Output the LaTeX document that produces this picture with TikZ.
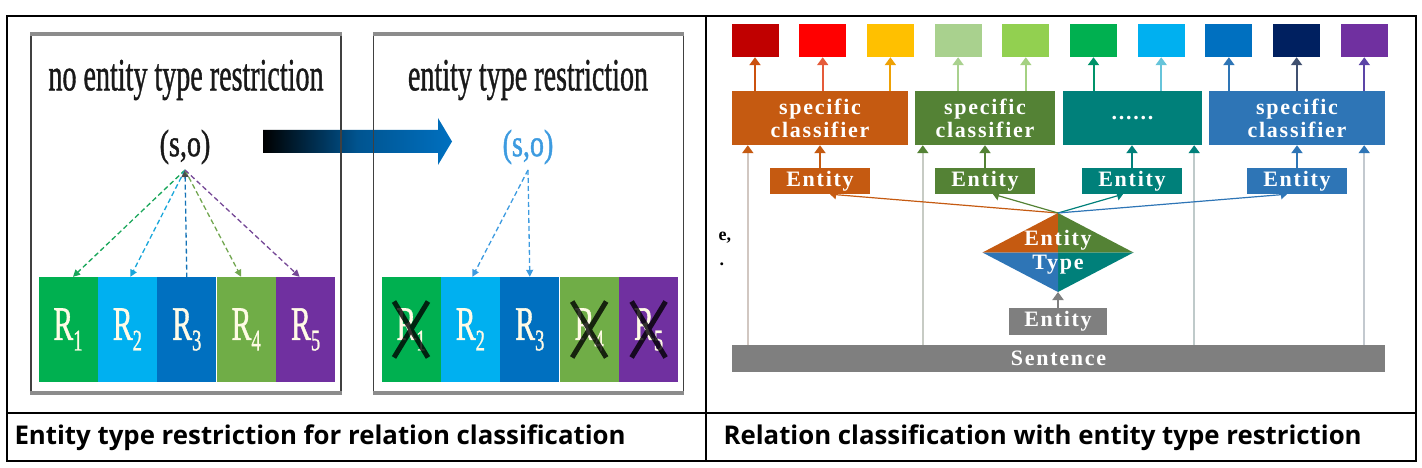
\documentclass[tikz,border=0pt]{standalone}
\usepackage{graphicx}
\usepackage{fontspec}
\setmainfont{Liberation Serif}
\newfontfamily\capfont{Open Sans}
\newfontfamily\spacedfont{Liberation Serif Bold}[LetterSpace=8]
\newfontfamily\heavyfont{Liberation Serif}[FakeBold=1.2]
\usetikzlibrary{positioning,arrows.meta,shapes.geometric,shapes.misc}

\definecolor{rgreen}{HTML}{00B050}
\definecolor{rlblue}{HTML}{00B0F0}
\definecolor{rblue}{HTML}{0070C0}
\definecolor{rolive}{HTML}{70AD47}
\definecolor{rpurple}{HTML}{7030A0}
\definecolor{rtext}{HTML}{FFFBE6}
\definecolor{arrowblue}{HTML}{0070C0}
\definecolor{sodblue}{HTML}{3D9BE0}
\definecolor{corange}{HTML}{C55A11}
\definecolor{cgreen}{HTML}{548235}
\definecolor{cteal}{HTML}{00807A}
\definecolor{cblue}{HTML}{2E75B6}
\definecolor{cgray}{HTML}{7F7F7F}
\definecolor{sqdred}{HTML}{C00000}
\definecolor{sqred}{HTML}{FF0000}
\definecolor{sqyellow}{HTML}{FFC000}
\definecolor{sqpale}{HTML}{A9D18E}
\definecolor{sqlime}{HTML}{92D050}
\definecolor{sqnavy}{HTML}{002060}

\newcommand{\squeeze}[2]{\scalebox{#1}[1]{#2}}
\newcommand{\relname}[1]{\squeeze{0.62}{R\raisebox{-0.22em}{\fontsize{30}{30}\selectfont #1}}}

\begin{document}
\begin{tikzpicture}[x=1pt, y=-1pt,
    frame/.style={draw=black!75, line width=1.5pt, minimum width=310pt,
                  minimum height=357pt, inner sep=0pt},
    rim/.style={line width=3.5pt, draw=black!45},
    title/.style={font=\heavyfont\fontsize{46}{46}\selectfont, text=black!90},
    pair/.style={font=\heavyfont\fontsize{38}{38}\selectfont, text=black!90},
    rbox/.style={minimum width=59pt, minimum height=105pt, inner sep=0pt,
                 text=rtext, font=\heavyfont\fontsize{48}{48}\selectfont},
    xmark/.style={cross out, draw=black, draw opacity=0.8, line width=5pt,
                  minimum width=29pt, minimum height=51pt, inner sep=0pt},
    hint/.style={dash pattern=on 5pt off 3pt, line width=1.3pt,
                 -{Triangle[width=7pt,length=7pt]}},
    sq/.style={minimum width=47pt, minimum height=33pt, inner sep=0pt},
    clf/.style={minimum height=54pt, inner sep=0pt, text=white, align=center,
                font=\spacedfont\fontsize{22}{23}\selectfont},
    ent/.style={minimum width=100pt, minimum height=26pt, inner sep=0pt, text=white,
                font=\spacedfont\fontsize{22}{24}\selectfont},
    up/.style={line width=2pt, -{Triangle[width=11pt,length=8pt]}},
    thin/.style={line width=1.2pt, -{Triangle[width=9pt,length=6pt]}},
    caption/.style={anchor=west, font=\capfont\bfseries\fontsize{25.8}{25.8}\selectfont}]

\useasboundingbox (0,0) rectangle (1422,468);

% table
\draw[line width=1.6pt] (7,16) -- (1416,16) -- (1416,461) -- (7,461) -- cycle;
\draw[line width=1.6pt] (706,16) -- (706,461);
\draw[line width=2pt] (7,413) -- (1416,413);

% ---- left cell
\shade[left color=black, right color=arrowblue, middle color=arrowblue!75!black]
  (263,130) -- (438,130) -- (438,118) -- (452,141.5) -- (438,165) -- (438,153) -- (263,153) -- cycle;

\node[frame] (f1) at (186,213.5) {};
\node[frame] (f2) at (528.5,213.5) {};
\draw[rim] (f1.north west) -- (f1.north east);
\draw[rim] (f1.south west) -- (f1.south east);
\draw[rim] (f2.north west) -- (f2.north east);
\draw[rim] (f2.south west) -- (f2.south east);

\node[title] (t1) at (186,80) {\squeeze{0.61}{no entity type restriction}};
\node[title] (t2) at (528,80) {\squeeze{0.61}{entity type restriction}};
\node[pair] (p1) at (185,147) {\squeeze{0.74}{(s,o)}};
\node[pair, text=sodblue] (p2) at (528,147) {\squeeze{0.74}{(s,o)}};
\coordinate (o1) at (185,170);
\coordinate (o2) at (528,170);

\node[rbox, fill=rgreen] (r1) at (68,329.5) {\relname{1}};
\node[rbox, fill=rlblue] (r2) [right=0pt of r1] {\relname{2}};
\node[rbox, fill=rblue] (r3) [right=0pt of r2] {\relname{3}};
\node[rbox, fill=rolive] (r4) [right=0pt of r3] {\relname{4}};
\node[rbox, fill=rpurple] (r5) [right=0pt of r4] {\relname{5}};

\node[rbox, fill=rgreen] (q1) at (411,329.5) {\relname{1}};
\node[rbox, fill=rlblue] (q2) [right=0pt of q1] {\relname{2}};
\node[rbox, fill=rblue] (q3) [right=0pt of q2] {\relname{3}};
\node[rbox, fill=rolive] (q4) [right=0pt of q3] {\relname{4}};
\node[rbox, fill=rpurple] (q5) [right=0pt of q4] {\relname{5}};
\node[xmark] (x1) at (q1) {};
\node[xmark] (x4) at (q4) {};
\node[xmark] (x5) at (q5) {};

\draw[hint, rgreen!80!gray] (o1) -- ([xshift=5pt]r1.north);
\draw[hint, rlblue!80!gray] (o1) -- ([xshift=3pt]r2.north);
\draw[hint, rblue!85!gray, {Triangle[width=7pt,length=7pt,color=black!70]}-] (o1) -- (r3.north);
\draw[hint, rolive!85!gray] (o1) -- ([xshift=-5pt]r4.north);
\draw[hint, rpurple!70!gray] (o1) -- ([xshift=-6pt]r5.north);
\draw[hint, sodblue] (o2) -- ([xshift=2pt]q2.north);
\draw[hint, sodblue] (o2) -- (q3.north);

\node[caption] (cap1) at (11,438) {Entity type restriction for relation classification};

% ---- right cell
\node[sq, fill=sqdred] (s1) at (755,40.5) {};
\node[sq, fill=sqred] (s2) [right=20.3pt of s1] {};
\node[sq, fill=sqyellow] (s3) [right=20.3pt of s2] {};
\node[sq, fill=sqpale] (s4) [right=20.3pt of s3] {};
\node[sq, fill=sqlime] (s5) [right=20.3pt of s4] {};
\node[sq, fill=rgreen] (s6) [right=20.3pt of s5] {};
\node[sq, fill=rlblue] (s7) [right=20.3pt of s6] {};
\node[sq, fill=rblue] (s8) [right=20.3pt of s7] {};
\node[sq, fill=sqnavy] (s9) [right=20.3pt of s8] {};
\node[sq, fill=rpurple] (s10) [right=20.3pt of s9] {};

\node[clf, fill=corange, minimum width=176pt] (c1) at (820,118) {specific\\classifier};
\node[clf, fill=cgreen, minimum width=140pt] (c2) at (985,118) {specific\\classifier};
\node[clf, fill=cteal, minimum width=139pt] (c3) at (1132.5,118) {......};
\node[clf, fill=cblue, minimum width=176pt] (c4) at (1297,118) {specific\\classifier};

\node[ent, fill=corange] (e1) at (820,181) {Entity};
\node[ent, fill=cgreen] (e2) at (985,181) {Entity};
\node[ent, fill=cteal] (e3) at (1132,181) {Entity};
\node[ent, fill=cblue] (e4) at (1297,181) {Entity};

\node[diamond, minimum width=151pt, minimum height=79pt, inner sep=0pt, outer sep=0pt] (et) at (1058,252.5) {};
\fill[corange] (et.center) -- (et.west) -- (et.north) -- cycle;
\fill[cgreen] (et.center) -- (et.north) -- (et.east) -- cycle;
\fill[cteal] (et.center) -- (et.east) -- (et.south) -- cycle;
\fill[cblue] (et.center) -- (et.south) -- (et.west) -- cycle;
\node[ent, minimum width=0pt, align=center] (etl) at (et.center) {Entity\\Type};

\node[ent, fill=cgray, minimum width=98pt, minimum height=27pt] (eb) at (1058,321.5) {Entity};
\node[ent, fill=cgray, minimum width=653pt, minimum height=27pt] (sent) at (1058.5,358.5) {Sentence};

\node[anchor=west, font=\bfseries\fontsize{18}{18}\selectfont] (frag1) at (715,238) {e,};
\node[anchor=west, font=\bfseries\fontsize{18}{18}\selectfont] (frag2) at (716,264) {.};

% classifier outputs
\draw[up, corange!90!red] (s1 |- c1.north) -- (s1.south);
\draw[up, corange!55!sqred!80!white] (s2 |- c1.north) -- (s2.south);
\draw[up, sqyellow!70!corange] (s3 |- c1.north) -- (s3.south);
\draw[up, sqpale] (s4 |- c2.north) -- (s4.south);
\draw[up, sqpale!80!sqlime] (s5 |- c2.north) -- (s5.south);
\draw[up, cteal!60!rgreen] (s6 |- c3.north) -- (s6.south);
\draw[up, rlblue!60!cteal!60!white] (s7 |- c3.north) -- (s7.south);
\draw[up, cblue] (s8 |- c4.north) -- (s8.south);
\draw[up, sqnavy!50!gray] (s9 |- c4.north) -- (s9.south);
\draw[up, rpurple!70!cblue] (s10 |- c4.north) -- (s10.south);

% entity to classifier
\draw[up, corange] (e1.north) -- (e1.north |- c1.south);
\draw[up, cgreen] (e2.north) -- (e2.north |- c2.south);
\draw[up, cteal] (e3.north) -- (e3.north |- c3.south);
\draw[up, cblue] (e4.north) -- (e4.north |- c4.south);

% sentence to classifier
\draw[up, corange!35!black!25, -{Triangle[width=11pt,length=8pt,color=corange]}]
  ([xshift=16pt]c1.south west |- sent.north) -- ([xshift=16pt]c1.south west);
\draw[up, cgreen!35!black!25, -{Triangle[width=11pt,length=8pt,color=cgreen]}]
  ([xshift=8pt]c2.south west |- sent.north) -- ([xshift=8pt]c2.south west);
\draw[up, cteal!35!black!25, -{Triangle[width=11pt,length=8pt,color=cteal]}]
  ([xshift=-8pt]c3.south east |- sent.north) -- ([xshift=-8pt]c3.south east);
\draw[up, cblue!35!black!25, -{Triangle[width=11pt,length=8pt,color=cblue]}]
  ([xshift=-21pt]c4.south east |- sent.north) -- ([xshift=-21pt]c4.south east);

% entity type to entities
\draw[thin, corange] (et.north) -- ([xshift=10pt]e1.south);
\draw[thin, cgreen] (et.north) -- ([xshift=8pt]e2.south);
\draw[thin, cteal] (et.north) -- ([xshift=-9pt]e3.south);
\draw[thin, cblue] (et.north) -- ([xshift=-10pt]e4.south);
\draw[up, cgray] (eb.north) -- (et.south);

\node[caption] (cap2) at (720,438) {Relation classification with entity type restriction};
\end{tikzpicture}
\end{document}
